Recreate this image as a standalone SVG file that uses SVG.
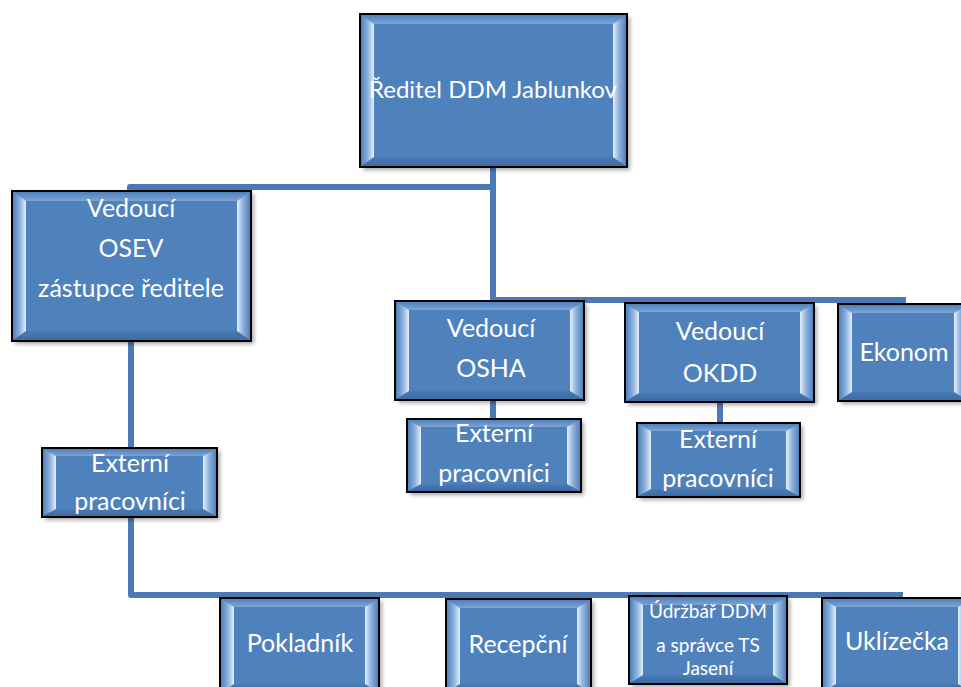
<svg xmlns="http://www.w3.org/2000/svg" width="961" height="687" viewBox="0 0 961 687">
  <defs>
    <linearGradient id="gL" x1="0" y1="0" x2="1" y2="0">
      <stop offset="0" stop-color="#4f81bd"/>
      <stop offset="0.55" stop-color="#8fb3de"/>
      <stop offset="1" stop-color="#e6f0fb"/>
    </linearGradient>
    <linearGradient id="gR" x1="1" y1="0" x2="0" y2="0">
      <stop offset="0" stop-color="#4f81bd"/>
      <stop offset="0.55" stop-color="#8fb3de"/>
      <stop offset="1" stop-color="#e6f0fb"/>
    </linearGradient>
    <linearGradient id="gT" x1="0" y1="0" x2="0" y2="1">
      <stop offset="0" stop-color="#4f81bd"/>
      <stop offset="1" stop-color="#7ea4d3"/>
    </linearGradient>
    <linearGradient id="gB" x1="0" y1="1" x2="0" y2="0">
      <stop offset="0" stop-color="#3d6ba3"/>
      <stop offset="1" stop-color="#4a7bb6"/>
    </linearGradient>
    <filter id="sh" x="-10%" y="-10%" width="130%" height="130%">
      <feGaussianBlur stdDeviation="2"/>
    </filter>
  </defs>
  <style>
    .conn path { fill: none; stroke: #4a79b4; stroke-width: 6; stroke-linejoin: round; }
    .shadow { fill: #000; opacity: 0.35; filter: url(#sh); }
    .box { fill: #4f81bd; stroke: #000; stroke-width: 2; }
    .bl { fill: url(#gL); }
    .br { fill: url(#gR); }
    .bt { fill: url(#gT); }
    .bb { fill: url(#gB); }
    text { font-family: Lato, "Liberation Sans", sans-serif; fill: #ffffff; text-anchor: middle; font-size: 25px; }
    text.big { font-size: 24px; }
    text.sm { font-size: 19px; }
  </style>
  <rect width="961" height="687" fill="#ffffff"/>

  <g id="connectors" class="conn">
    <path d="M493,167 V301"/>
    <path d="M130,191 V187 H493"/>
    <path d="M493,300 H906"/>
    <path d="M131,341 V448"/>
    <path d="M131,517 V595 H903"/>
    <path d="M493,401 V419"/>
    <path d="M720,402 V423"/>
  </g>

  <g id="n-reditel" transform="translate(360,14)">
    <rect class="shadow" x="3" y="3" width="267" height="153"/>
    <rect class="box" width="267" height="153"/>
    <polygon class="bt" points="1,1 266,1 253,10 14,10"/>
    <polygon class="bb" points="1,152 266,152 253,143 14,143"/>
    <polygon class="bl" points="1,1 14,10 14,143 1,152"/>
    <polygon class="br" points="266,1 253,10 253,143 266,152"/>
    <text class="big" x="133" y="84">Ředitel DDM Jablunkov</text>
  </g>

  <g id="n-osev" transform="translate(12,191)">
    <rect class="shadow" x="3" y="3" width="239" height="150"/>
    <rect class="box" width="239" height="150"/>
    <polygon class="bt" points="1,1 238,1 225,10 14,10"/>
    <polygon class="bb" points="1,149 238,149 225,140 14,140"/>
    <polygon class="bl" points="1,1 14,10 14,140 1,149"/>
    <polygon class="br" points="238,1 225,10 225,140 238,149"/>
    <text x="119" y="26">Vedoucí</text>
    <text x="119" y="66">OSEV</text>
    <text x="119" y="106">zástupce ředitele</text>
  </g>

  <g id="n-osha" transform="translate(395,301)">
    <rect class="shadow" x="3" y="3" width="189" height="99"/>
    <rect class="box" width="189" height="99"/>
    <polygon class="bt" points="1,1 188,1 175,9 14,9"/>
    <polygon class="bb" points="1,98 188,98 175,90 14,90"/>
    <polygon class="bl" points="1,1 14,9 14,90 1,98"/>
    <polygon class="br" points="188,1 175,9 175,90 188,98"/>
    <text x="96" y="36">Vedoucí</text>
    <text x="96" y="76">OSHA</text>
  </g>

  <g id="n-ext-osha" transform="translate(407,419)">
    <rect class="shadow" x="3" y="3" width="174" height="73"/>
    <rect class="box" width="174" height="73"/>
    <polygon class="bt" points="1,1 173,1 160,8 14,8"/>
    <polygon class="bb" points="1,72 173,72 160,65 14,65"/>
    <polygon class="bl" points="1,1 14,8 14,65 1,72"/>
    <polygon class="br" points="173,1 160,8 160,65 173,72"/>
    <text x="87" y="23">Externí</text>
    <text x="87" y="63">pracovníci</text>
  </g>

  <g id="n-okdd" transform="translate(625,303)">
    <rect class="shadow" x="3" y="3" width="189" height="99"/>
    <rect class="box" width="189" height="99"/>
    <polygon class="bt" points="1,1 188,1 175,9 14,9"/>
    <polygon class="bb" points="1,98 188,98 175,90 14,90"/>
    <polygon class="bl" points="1,1 14,9 14,90 1,98"/>
    <polygon class="br" points="188,1 175,9 175,90 188,98"/>
    <text x="95" y="37">Vedoucí</text>
    <text x="95" y="79">OKDD</text>
  </g>

  <g id="n-ext-okdd" transform="translate(637,423)">
    <rect class="shadow" x="3" y="3" width="163" height="74"/>
    <rect class="box" width="163" height="74"/>
    <polygon class="bt" points="1,1 162,1 149,8 14,8"/>
    <polygon class="bb" points="1,73 162,73 149,66 14,66"/>
    <polygon class="bl" points="1,1 14,8 14,66 1,73"/>
    <polygon class="br" points="162,1 149,8 149,66 162,73"/>
    <text x="81" y="25">Externí</text>
    <text x="81" y="64">pracovníci</text>
  </g>

  <g id="n-ekonom" transform="translate(838,304)">
    <rect class="shadow" x="3" y="3" width="130" height="97"/>
    <rect class="box" width="130" height="97"/>
    <polygon class="bt" points="1,1 129,1 116,9 14,9"/>
    <polygon class="bb" points="1,96 129,96 116,88 14,88"/>
    <polygon class="bl" points="1,1 14,9 14,88 1,96"/>
    <polygon class="br" points="129,1 116,9 116,88 129,96"/>
    <text x="66" y="57">Ekonom</text>
  </g>

  <g id="n-ext-osev" transform="translate(42,448)">
    <rect class="shadow" x="3" y="3" width="175" height="69"/>
    <rect class="box" width="175" height="69"/>
    <polygon class="bt" points="1,1 174,1 161,8 14,8"/>
    <polygon class="bb" points="1,68 174,68 161,61 14,61"/>
    <polygon class="bl" points="1,1 14,8 14,61 1,68"/>
    <polygon class="br" points="174,1 161,8 161,61 174,68"/>
    <text x="88" y="24">Externí</text>
    <text x="88" y="62">pracovníci</text>
  </g>

  <g id="n-pokladnik" transform="translate(220,598)">
    <rect class="shadow" x="3" y="3" width="159" height="95"/>
    <rect class="box" width="159" height="95"/>
    <polygon class="bt" points="1,1 158,1 145,9 14,9"/>
    <polygon class="bb" points="1,94 158,94 145,86 14,86"/>
    <polygon class="bl" points="1,1 14,9 14,86 1,94"/>
    <polygon class="br" points="158,1 145,9 145,86 158,94"/>
    <text x="80" y="54">Pokladník</text>
  </g>

  <g id="n-recepcni" transform="translate(446,599)">
    <rect class="shadow" x="3" y="3" width="145" height="94"/>
    <rect class="box" width="145" height="94"/>
    <polygon class="bt" points="1,1 144,1 131,9 14,9"/>
    <polygon class="bb" points="1,93 144,93 131,85 14,85"/>
    <polygon class="bl" points="1,1 14,9 14,85 1,93"/>
    <polygon class="br" points="144,1 131,9 131,85 144,93"/>
    <text x="72" y="54">Recepční</text>
  </g>

  <g id="n-udrzbar" transform="translate(629,596)">
    <rect class="shadow" x="3" y="3" width="158" height="88"/>
    <rect class="box" width="158" height="88"/>
    <polygon class="bt" points="1,1 157,1 144,9 14,9"/>
    <polygon class="bb" points="1,87 157,87 144,79 14,79"/>
    <polygon class="bl" points="1,1 14,9 14,79 1,87"/>
    <polygon class="br" points="157,1 144,9 144,79 157,87"/>
    <text class="sm" x="79" y="22">Údržbář DDM</text>
    <text class="sm" x="79" y="56">a správce TS</text>
    <text class="sm" x="79" y="79">Jasení</text>
  </g>

  <g id="n-uklizecka" transform="translate(822,598)">
    <rect class="shadow" x="3" y="3" width="150" height="95"/>
    <rect class="box" width="150" height="95"/>
    <polygon class="bt" points="1,1 149,1 136,9 14,9"/>
    <polygon class="bb" points="1,94 149,94 136,86 14,86"/>
    <polygon class="bl" points="1,1 14,9 14,86 1,94"/>
    <polygon class="br" points="149,1 136,9 136,86 149,94"/>
    <text x="75" y="52">Uklízečka</text>
  </g>
</svg>
